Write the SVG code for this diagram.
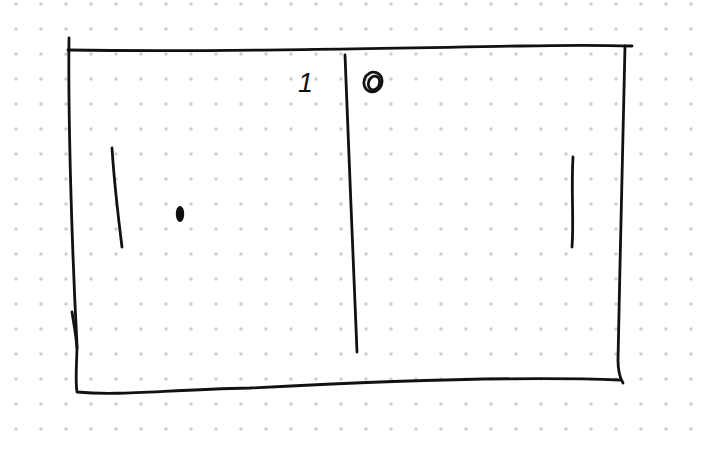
<svg xmlns="http://www.w3.org/2000/svg" width="706" height="450" viewBox="0 0 706 450">
<defs>
<pattern id="dots" x="0" y="0" width="25" height="25" patternUnits="userSpaceOnUse">
<circle cx="16" cy="4" r="1.8" fill="#cfcfcf"/>
</pattern>
<style>
.s{fill:none;stroke:#111;stroke-width:2.8;stroke-linecap:round;stroke-linejoin:round}
.t{font-family:"Liberation Sans",sans-serif;fill:#111}
</style>
</defs>
<rect width="706" height="450" fill="#fff"/>
<rect width="706" height="450" fill="url(#dots)"/>
<g id="court">
<path class="s" d="M69 38 C68 120 72 250 77 345 C77 360 75 380 77 392 C120 396 160 390 250 388 C400 380 520 376 620 380"/>
<path class="s" d="M72 312 C74 325 76 335 77 348"/>
<path class="s" d="M68 50 C200 52 350 49 520 46 C570 45 600 45 632 46"/>
<path class="s" d="M625 46 C624 120 620 250 618 360 C618 372 620 378 623 383"/>
</g>
<g id="net">
<path class="s" d="M345 55 C348 150 354 260 357 352"/>
</g>
<g id="score">
<text class="t" x="298" y="92" font-size="27" font-style="italic">1</text>
<ellipse cx="373" cy="82" rx="9" ry="10" class="s" stroke-width="2.4" transform="rotate(20 373 82)"/>
<ellipse cx="374" cy="83" rx="5.5" ry="7" class="s" stroke-width="1.8" transform="rotate(20 374 83)"/>
</g>
<g id="left-paddle">
<path class="s" d="M112 148 C114 180 118 215 122 247" stroke-width="3.8"/>
</g>
<g id="ball">
<ellipse cx="180" cy="214" rx="4.2" ry="8" fill="#111"/>
</g>
<g id="right-paddle">
<path class="s" d="M573 157 C571 190 574 220 572 247" stroke-width="4"/>
</g>
</svg>
